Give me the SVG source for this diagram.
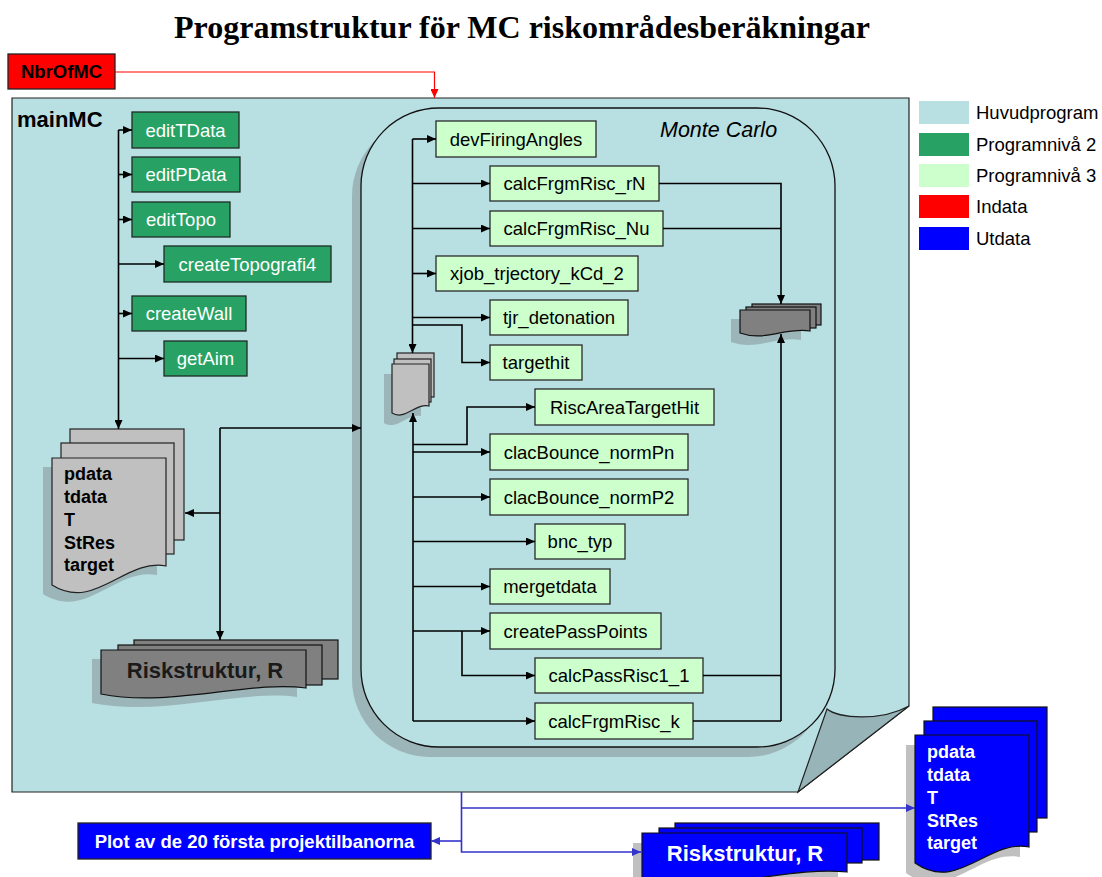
<svg xmlns="http://www.w3.org/2000/svg" width="1102" height="877" viewBox="0 0 1102 877">
  <style>
    .title { font-family: "Liberation Serif", "Times New Roman", serif; font-weight: bold; font-size: 32px; fill: #000; }
    .lbl { font-family: "Liberation Sans", Arial, sans-serif; font-size: 18.5px; }
    .bold { font-family: "Liberation Sans", Arial, sans-serif; font-weight: bold; }
    .lv2 rect { fill: #28a264; stroke: #1e2b24; stroke-width: 1.3; }
    .lv2 text { fill: #ffffff; text-anchor: middle; }
    .lv3 rect { fill: #ccffcc; stroke: #2a2a2a; stroke-width: 1.3; }
    .lv3 text { fill: #000; text-anchor: middle; }
    .doc-grey { fill: #c0c0c0; stroke: #222; stroke-width: 1.2; }
    .doc-dark { fill: #808080; stroke: #111; stroke-width: 1.2; }
    .doc-blue { fill: #0000ff; stroke: #111; stroke-width: 1.2; }
    .shadow-teal { fill: #9bb5b8; }
    .shadow-white { fill: #c0c0c0; }
    .conn { fill: none; stroke: #000; stroke-width: 1.6; }
    .conn-red { fill: none; stroke: #ff0000; stroke-width: 1.2; }
    .conn-blue { fill: none; stroke: #3333cc; stroke-width: 1.6; }
    .legend-text { font-family: "Liberation Sans", Arial, sans-serif; font-size: 18.5px; fill: #000; }
  </style>
  <defs>
    <marker id="ah" viewBox="0 0 9 8" markerWidth="9" markerHeight="8" refX="9" refY="4" orient="auto" markerUnits="userSpaceOnUse">
      <path d="M0,0 L9,4 L0,8 Z" fill="#000"/>
    </marker>
    <marker id="ah-red" viewBox="0 0 9 8" markerWidth="9" markerHeight="8" refX="9" refY="4" orient="auto" markerUnits="userSpaceOnUse">
      <path d="M0,0 L9,4 L0,8 Z" fill="#ff0000"/>
    </marker>
    <marker id="ah-blue" viewBox="0 0 9 8" markerWidth="9" markerHeight="8" refX="9" refY="4" orient="auto" markerUnits="userSpaceOnUse">
      <path d="M0,0 L9,4 L0,8 Z" fill="#3333cc"/>
    </marker>
  </defs>

  <rect width="1102" height="877" fill="#ffffff"/>

  <text class="title" x="522" y="38" text-anchor="middle">Programstruktur för MC riskområdesberäkningar</text>

  <!-- main program page with turned-up corner -->
  <g id="mainMC">
    <path d="M12,98 H909 V706 L798,792 H12 Z" fill="#b8dfe2" stroke="#222" stroke-width="1.2"/>
    <path d="M798,792 L827,709 C838,718 880,722 909,706 Z" fill="#97b4b8" stroke="#222" stroke-width="1.2"/>
    <text class="bold" x="17" y="127" font-size="22" fill="#000">mainMC</text>
  </g>

  <!-- Monte Carlo loop region -->
  <g id="monteCarlo">
    <rect x="352" y="118" width="474" height="639" rx="78" ry="78" class="shadow-teal"/>
    <rect x="361" y="108" width="474" height="639" rx="78" ry="78" fill="#b8dfe2" stroke="#111" stroke-width="1.3"/>
    <text x="660" y="137" font-family="Liberation Sans, Arial, sans-serif" font-style="italic" font-size="21.5" fill="#000">Monte Carlo</text>
  </g>

  <!-- input -->
  <g id="nbrOfMC">
    <rect x="8" y="54" width="107" height="35" fill="#ff0000" stroke="#222" stroke-width="1.3"/>
    <text class="bold" x="61.5" y="78" font-size="18.5" text-anchor="middle" fill="#000">NbrOfMC</text>
  </g>

  <!-- level 2 routines -->
  <g id="editTData" class="lv2"><rect x="132" y="112" width="107" height="36"/><text class="lbl" x="185.5" y="136.5">editTData</text></g>
  <g id="editPData" class="lv2"><rect x="132" y="157" width="108" height="35"/><text class="lbl" x="186" y="181">editPData</text></g>
  <g id="editTopo" class="lv2"><rect x="132" y="202" width="98" height="35"/><text class="lbl" x="181" y="226">editTopo</text></g>
  <g id="createTopografi4" class="lv2"><rect x="164" y="246" width="167" height="36"/><text class="lbl" x="247.5" y="270.5">createTopografi4</text></g>
  <g id="createWall" class="lv2"><rect x="132" y="296" width="114" height="35"/><text class="lbl" x="189" y="320">createWall</text></g>
  <g id="getAim" class="lv2"><rect x="164" y="341" width="83" height="35"/><text class="lbl" x="205.5" y="365">getAim</text></g>

  <!-- data stack: pdata ... target -->
  <g id="dataStack">
    <path d="M43,467 H157 V575 C116,567 86,621 43,594 Z" class="shadow-teal"/>
    <rect x="70" y="429" width="114" height="111" class="doc-grey"/>
    <rect x="61" y="443" width="113" height="111" class="doc-grey"/>
    <path d="M52,458 H166 V566 C125,558 95,612 52,585 Z" class="doc-grey"/>
    <g class="bold" font-size="18" fill="#000">
      <text x="64" y="480">pdata</text>
      <text x="64" y="503">tdata</text>
      <text x="64" y="526">T</text>
      <text x="64" y="549">StRes</text>
      <text x="64" y="571">target</text>
    </g>
  </g>

  <!-- risk structure stack -->
  <g id="riskStruktur">
    <path d="M92,659 H297 V697 C241,689 161,717 92,703 Z" class="shadow-teal"/>
    <rect x="134" y="640" width="204" height="39" class="doc-dark"/>
    <rect x="118" y="645" width="204" height="40" class="doc-dark"/>
    <path d="M101,650 H306 V688 C250,680 170,708 101,694 Z" class="doc-dark"/>
    <text class="bold" x="205" y="678" font-size="22" text-anchor="middle" fill="#1a1a1a">Riskstruktur, R</text>
  </g>

  <!-- intermediate data stacks inside the loop -->
  <g id="loopData">
    <path d="M384,374 H421 V416 C407,413 397,431 384,423 Z" class="shadow-teal"/>
    <rect x="397" y="353" width="37" height="44" class="doc-grey"/>
    <rect x="394" y="359" width="37" height="43" class="doc-grey"/>
    <path d="M392,364 H429 V406 C415,403 405,421 392,413 Z" class="doc-grey"/>
  </g>
  <g id="riskData">
    <path d="M731,319 H801 V340 C776,336 756,351 731,342 Z" class="shadow-teal"/>
    <rect x="752" y="304" width="69" height="21" class="doc-dark"/>
    <rect x="746" y="307" width="70" height="21" class="doc-dark"/>
    <path d="M740,310 H810 V331 C785,327 765,342 740,333 Z" class="doc-dark"/>
  </g>

  <!-- level 3 routines -->
  <g id="devFiringAngles" class="lv3"><rect x="436" y="121" width="160" height="36"/><text class="lbl" x="516" y="145.5">devFiringAngles</text></g>
  <g id="calcFrgmRisc_rN" class="lv3"><rect x="490" y="166" width="169" height="35"/><text class="lbl" x="574.5" y="190">calcFrgmRisc_rN</text></g>
  <g id="calcFrgmRisc_Nu" class="lv3"><rect x="490" y="211" width="173" height="35"/><text class="lbl" x="576.5" y="235">calcFrgmRisc_Nu</text></g>
  <g id="xjob_trjectory_kCd_2" class="lv3"><rect x="436" y="256" width="202" height="35"/><text class="lbl" x="537" y="280">xjob_trjectory_kCd_2</text></g>
  <g id="tjr_detonation" class="lv3"><rect x="490" y="300" width="138" height="35"/><text class="lbl" x="559" y="324">tjr_detonation</text></g>
  <g id="targethit" class="lv3"><rect x="490" y="345" width="92" height="35"/><text class="lbl" x="536" y="369">targethit</text></g>
  <g id="RiscAreaTargetHit" class="lv3"><rect x="535" y="389" width="179" height="36"/><text class="lbl" x="624.5" y="413.5">RiscAreaTargetHit</text></g>
  <g id="clacBounce_normPn" class="lv3"><rect x="490" y="434" width="198" height="36"/><text class="lbl" x="589" y="458.5">clacBounce_normPn</text></g>
  <g id="clacBounce_normP2" class="lv3"><rect x="490" y="479" width="198" height="36"/><text class="lbl" x="589" y="503.5">clacBounce_normP2</text></g>
  <g id="bnc_typ" class="lv3"><rect x="535" y="524" width="90" height="35"/><text class="lbl" x="580" y="548">bnc_typ</text></g>
  <g id="mergetdata" class="lv3"><rect x="490" y="569" width="120" height="35"/><text class="lbl" x="550" y="593">mergetdata</text></g>
  <g id="createPassPoints" class="lv3"><rect x="490" y="613" width="171" height="36"/><text class="lbl" x="575.5" y="637.5">createPassPoints</text></g>
  <g id="calcPassRisc1_1" class="lv3"><rect x="535" y="658" width="168" height="35"/><text class="lbl" x="619" y="682">calcPassRisc1_1</text></g>
  <g id="calcFrgmRisc_k" class="lv3"><rect x="535" y="703" width="158" height="36"/><text class="lbl" x="614" y="727.5">calcFrgmRisc_k</text></g>

  <!-- output -->
  <g id="plot">
    <rect x="78" y="823" width="353" height="36" fill="#0000ff" stroke="#222" stroke-width="1.3"/>
    <text class="bold" x="254.5" y="848" font-size="18.5" text-anchor="middle" fill="#ffffff">Plot av de 20 första projektilbanorna</text>
  </g>
  <g id="riskStrukturOut">
    <rect x="633" y="843" width="205" height="50" class="shadow-white"/>
    <rect x="675" y="823" width="204" height="37" class="doc-blue"/>
    <rect x="659" y="828" width="203" height="35" class="doc-blue"/>
    <path d="M642,833 H847 V872 C790,866 720,892 642,884 Z" class="doc-blue"/>
    <text class="bold" x="745" y="861" font-size="22" text-anchor="middle" fill="#ffffff">Riskstruktur, R</text>
  </g>
  <g id="dataOut">
    <path d="M906,745 H1020 V857 C979,849 949,903 906,873 Z" class="shadow-white"/>
    <rect x="933" y="707" width="114" height="111" class="doc-blue"/>
    <rect x="924" y="721" width="113" height="111" class="doc-blue"/>
    <path d="M915,735 H1029 V847 C988,839 958,893 915,863 Z" class="doc-blue"/>
    <g class="bold" font-size="18" fill="#ffffff">
      <text x="927" y="758">pdata</text>
      <text x="927" y="781">tdata</text>
      <text x="927" y="804">T</text>
      <text x="927" y="827">StRes</text>
      <text x="927" y="849">target</text>
    </g>
  </g>

  <!-- legend -->
  <g id="legend">
    <rect x="919" y="101" width="50" height="23" fill="#b8dfe2"/>
    <text class="legend-text" x="976" y="119">Huvudprogram</text>
    <rect x="919" y="133" width="50" height="23" fill="#28a264"/>
    <text class="legend-text" x="976" y="150.5">Programnivå 2</text>
    <rect x="919" y="164" width="50" height="23" fill="#ccffcc"/>
    <text class="legend-text" x="976" y="182">Programnivå 3</text>
    <rect x="919" y="195" width="50" height="23" fill="#ff0000"/>
    <text class="legend-text" x="976" y="213">Indata</text>
    <rect x="919" y="227" width="50" height="23" fill="#0000ff"/>
    <text class="legend-text" x="976" y="244.5">Utdata</text>
  </g>

  <!-- connectors -->
  <g id="connectors">
    <path class="conn-red" d="M115,72 H434.5 V98" marker-end="url(#ah-red)"/>

    <!-- mainMC calls -->
    <path class="conn" d="M118.5,130 V429" marker-end="url(#ah)"/>
    <path class="conn" d="M118.5,130 H132" marker-end="url(#ah)"/>
    <path class="conn" d="M118.5,174.5 H132" marker-end="url(#ah)"/>
    <path class="conn" d="M118.5,219.5 H132" marker-end="url(#ah)"/>
    <path class="conn" d="M118.5,264 H164" marker-end="url(#ah)"/>
    <path class="conn" d="M118.5,313.5 H132" marker-end="url(#ah)"/>
    <path class="conn" d="M118.5,358.5 H164" marker-end="url(#ah)"/>

    <path class="conn" d="M220,428 H361" marker-end="url(#ah)"/>
    <path class="conn" d="M220,428 V640" marker-end="url(#ah)"/>
    <path class="conn" d="M220,513 H185" marker-end="url(#ah)"/>

    <!-- loop, upper part -->
    <path class="conn" d="M412.5,139 V353" marker-end="url(#ah)"/>
    <path class="conn" d="M412.5,139 H436" marker-end="url(#ah)"/>
    <path class="conn" d="M412.5,183.5 H490" marker-end="url(#ah)"/>
    <path class="conn" d="M412.5,228.5 H490" marker-end="url(#ah)"/>
    <path class="conn" d="M412.5,273.5 H436" marker-end="url(#ah)"/>
    <path class="conn" d="M412.5,317.5 H490" marker-end="url(#ah)"/>
    <path class="conn" d="M412.5,325 H462 V362.5 H490" marker-end="url(#ah)"/>

    <path class="conn" d="M659,183.5 H781 V304" marker-end="url(#ah)"/>
    <path class="conn" d="M663,228.5 H781"/>
    <path class="conn" d="M781,721 V334" marker-end="url(#ah)"/>
    <path class="conn" d="M703,675.5 H781"/>
    <path class="conn" d="M693,721 H781"/>

    <!-- loop, lower part -->
    <path class="conn" d="M413,721 V413" marker-end="url(#ah)"/>
    <path class="conn" d="M413,444.5 H467 V407 H535" marker-end="url(#ah)"/>
    <path class="conn" d="M413,452 H490" marker-end="url(#ah)"/>
    <path class="conn" d="M413,497 H490" marker-end="url(#ah)"/>
    <path class="conn" d="M413,541.5 H535" marker-end="url(#ah)"/>
    <path class="conn" d="M413,586.5 H490" marker-end="url(#ah)"/>
    <path class="conn" d="M413,631 H490" marker-end="url(#ah)"/>
    <path class="conn" d="M462,631 V675.5 H535" marker-end="url(#ah)"/>
    <path class="conn" d="M413,721 H535" marker-end="url(#ah)"/>

    <!-- outputs -->
    <path class="conn-blue" d="M461.5,792 V852 H641" marker-end="url(#ah-blue)"/>
    <path class="conn-blue" d="M461.5,808 H915" marker-end="url(#ah-blue)"/>
    <path class="conn-blue" d="M461.5,841 H431" marker-end="url(#ah-blue)"/>
  </g>
</svg>
